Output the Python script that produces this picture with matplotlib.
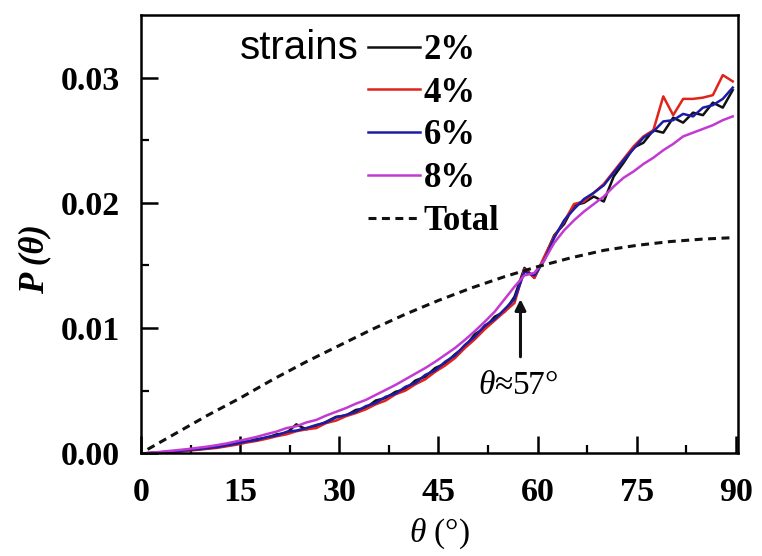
import numpy as np
import matplotlib
matplotlib.use("Agg")
import matplotlib.pyplot as plt

plt.rcParams["font.family"] = ["Liberation Serif", "DejaVu Serif"]
plt.rcParams["mathtext.fontset"] = "custom"
plt.rcParams["mathtext.rm"] = "Liberation Serif"
plt.rcParams["mathtext.it"] = "Liberation Serif:italic"

# sampling angles (deg) for the strain curves
theta = np.arange(1, 90, 1.5)

p_2 = [0.0000, 0.00004, 0.00010, 0.00015, 0.00022, 0.00030, 0.00038, 0.00050, 0.00060, 0.00082,
       0.00090, 0.00112, 0.00122, 0.00150, 0.00160, 0.00230, 0.00190, 0.00215, 0.00250, 0.00290,
       0.00300, 0.00345, 0.00360, 0.00420, 0.00440, 0.00490, 0.00510, 0.00580, 0.00610, 0.00680,
       0.00715, 0.00790, 0.00850, 0.00950, 0.01000, 0.01090, 0.01130, 0.01250, 0.01480, 0.01400,
       0.01560, 0.01740, 0.01830, 0.01980, 0.02000, 0.02050, 0.02010, 0.02210, 0.02320, 0.02440,
       0.02480, 0.02580, 0.02560, 0.02680, 0.02640, 0.02720, 0.02700, 0.02800, 0.02760, 0.02900]

p_4 = [0.0000, 0.00003, 0.00008, 0.00012, 0.00020, 0.00026, 0.00034, 0.00042, 0.00055, 0.00068,
       0.00085, 0.00098, 0.00115, 0.00135, 0.00150, 0.00175, 0.00190, 0.00200, 0.00240, 0.00260,
       0.00295, 0.00320, 0.00350, 0.00390, 0.00420, 0.00470, 0.00500, 0.00550, 0.00590, 0.00650,
       0.00700, 0.00760, 0.00840, 0.00910, 0.00990, 0.01060, 0.01130, 0.01200, 0.01470, 0.01400,
       0.01570, 0.01730, 0.01850, 0.01990, 0.02010, 0.02080, 0.02150, 0.02250, 0.02350, 0.02450,
       0.02530, 0.02580, 0.02850, 0.02700, 0.02830, 0.02830, 0.02840, 0.02860, 0.03020, 0.02970]

p_6 = [0.0000, 0.00005, 0.00011, 0.00016, 0.00024, 0.00031, 0.00040, 0.00048, 0.00063, 0.00076,
       0.00094, 0.00105, 0.00128, 0.00140, 0.00170, 0.00180, 0.00200, 0.00225, 0.00245, 0.00285,
       0.00305, 0.00330, 0.00375, 0.00400, 0.00450, 0.00475, 0.00530, 0.00560, 0.00625, 0.00660,
       0.00730, 0.00780, 0.00865, 0.00930, 0.01020, 0.01070, 0.01150, 0.01230, 0.01450, 0.01420,
       0.01540, 0.01720, 0.01860, 0.01950, 0.02030, 0.02080, 0.02140, 0.02240, 0.02340, 0.02430,
       0.02520, 0.02570, 0.02650, 0.02660, 0.02710, 0.02690, 0.02760, 0.02780, 0.02830, 0.02920]

p_8 = [0.0000, 0.00008, 0.00016, 0.00024, 0.00032, 0.00042, 0.00052, 0.00064, 0.00078, 0.00095,
       0.00112, 0.00130, 0.00152, 0.00172, 0.00200, 0.00215, 0.00245, 0.00265, 0.00300, 0.00330,
       0.00360, 0.00395, 0.00425, 0.00465, 0.00505, 0.00545, 0.00590, 0.00635, 0.00680, 0.00730,
       0.00785, 0.00840, 0.00905, 0.00975, 0.01050, 0.01130, 0.01230, 0.01330, 0.01420, 0.01440,
       0.01540, 0.01680, 0.01780, 0.01860, 0.01930, 0.01990, 0.02050, 0.02130, 0.02200, 0.02250,
       0.02310, 0.02360, 0.02420, 0.02470, 0.02530, 0.02560, 0.02590, 0.02620, 0.02660, 0.02690]

# random-orientation reference curve
theta_total = [1, 5, 10, 15, 20, 25, 30, 35, 40, 45, 50, 55, 60, 65, 70, 75, 80, 85, 89]
p_total = [0.0003, 0.0015, 0.0030, 0.0044, 0.0059, 0.0073, 0.0086, 0.0099, 0.0111, 0.0122,
           0.0132, 0.0141, 0.0149, 0.0156, 0.0162, 0.0166, 0.0169, 0.0171, 0.0172]

strain_labels = ["2%", "4%", "6%", "8%"]
strain_colors = ["#111111", "#e0241c", "#1c1ca8", "#c23ad2"]

fig = plt.figure(figsize=(7.62, 5.56), dpi=100)
ax = fig.add_axes([0.185, 0.185, 0.7835, 0.788])

for p, lab, col in zip([p_2, p_4, p_6, p_8], strain_labels, strain_colors):
    ax.plot(theta, p, color=col, lw=1.8, label=lab)
ax.plot(theta_total, p_total, color="#111111", lw=2.2, ls=(0, (2.6, 1.8)), label="Total")

ax.set_xlim(0, 90.3)
ax.set_ylim(0, 0.035)
ax.set_xticks([0, 15, 30, 45, 60, 75, 90])
ax.set_xticks(np.arange(7.5, 90, 15), minor=True)
ax.set_yticks([0.00, 0.01, 0.02, 0.03])
ax.set_yticks([0.005, 0.015, 0.025], minor=True)
ax.set_yticklabels(["0.00", "0.01", "0.02", "0.03"])

for s in ax.spines.values():
    s.set_linewidth(1.8)
ax.tick_params(which="major", direction="in", length=12, width=1.8, labelsize=24.5)
ax.tick_params(axis="x", which="major", pad=17)
ax.tick_params(axis="y", which="major", pad=15)
ax.tick_params(which="minor", direction="in", length=6, width=1.6)
for t in ax.get_xticklabels() + ax.get_yticklabels():
    t.set_fontweight("bold")

ax.set_xlabel(r"$\theta$ (°)", fontsize=24, labelpad=6)
ax.set_ylabel("P (θ)", fontsize=25, fontweight="bold", style="italic")
ax.yaxis.set_label_coords(-0.15, 0.443)

leg = ax.legend(loc="upper left", bbox_to_anchor=(0.375, 0.965), frameon=False,
                handlelength=1.5, handletextpad=0.1, labelspacing=0.28,
                borderpad=0.1, borderaxespad=0.0,
                prop={"family": "Liberation Serif", "weight": "bold", "size": 25})
ax.text(0.365, 0.925, "strains", transform=ax.transAxes, ha="right", va="center",
        fontsize=29, family="Liberation Sans")

ax.annotate("", xy=(57.4, 0.0123), xytext=(57.4, 0.0077),
            arrowprops=dict(arrowstyle="-|>", color="#111111", lw=2.2, mutation_scale=16,
                            shrinkA=0, shrinkB=0))
ax.text(57.0, 0.0054, r"$\theta$≈57°", ha="center", va="center", fontsize=24)

fig.savefig("out.png", dpi=100)
